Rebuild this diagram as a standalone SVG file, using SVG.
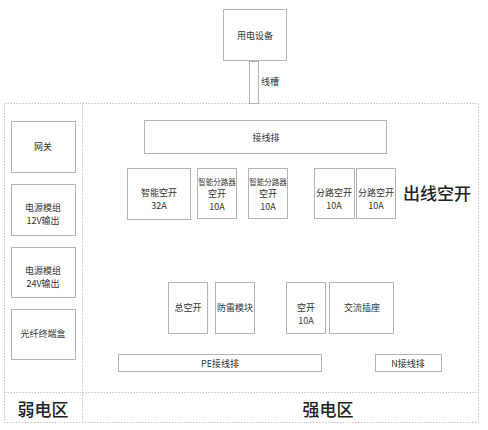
<svg xmlns="http://www.w3.org/2000/svg" width="488" height="430" viewBox="0 0 488 430">
<style>
.b{fill:#fff;stroke:#b4b4b4;stroke-width:1}
.d{fill:none;stroke:#c4c4c4;stroke-width:1;stroke-dasharray:1.5 1.5}
text{font-family:"Noto Sans CJK SC","Liberation Sans",sans-serif;font-size:9px;fill:#333;text-anchor:middle;dominant-baseline:central}
.s{font-size:7.5px}
.big{font-size:17px;fill:#222;font-weight:500}
</style>
<rect width="488" height="430" fill="#fff"/>
<g id="zones">
<rect class="d" x="4.5" y="103.5" width="474" height="319"/>
<line class="d" x1="82.5" y1="103.5" x2="82.5" y2="422.5"/>
<line class="d" x1="4.5" y1="392.5" x2="478.5" y2="392.5"/>
<text class="big" x="43" y="408">弱电区</text>
<text class="big" x="328" y="408">强电区</text>
<text class="big" x="437" y="192">出线空开</text>
</g>
<g id="connectors">
<rect class="b" x="249.5" y="61.5" width="9" height="42"/>
<text x="270" y="81">线槽</text>
</g>
<g id="device"><rect class="b" x="223.5" y="9.5" width="63" height="51"/><text x="255" y="35">用电设备</text></g>
<g id="gateway"><rect class="b" x="11.5" y="121.5" width="64" height="51"/><text x="43" y="146">网关</text></g>
<g id="psu12"><rect class="b" x="11.5" y="184.5" width="64" height="51"/><text x="43" y="207">电源模组</text><text x="43" y="220">12V输出</text></g>
<g id="psu24"><rect class="b" x="11.5" y="247.5" width="64" height="50"/><text x="43" y="270">电源模组</text><text x="43" y="283">24V输出</text></g>
<g id="fiber"><rect class="b" x="11.5" y="309.5" width="64" height="50"/><text x="43" y="333">光纤终端盒</text></g>
<g id="terminal"><rect class="b" x="144.5" y="120.5" width="242" height="33"/><text x="266" y="137">接线排</text></g>
<g id="smart32"><rect class="b" x="127.5" y="168.5" width="63" height="51"/><text x="159" y="192">智能空开</text><text x="159" y="205">32A</text></g>
<g id="smartsplit1"><rect class="b" x="197.5" y="168.5" width="39" height="50"/><text class="s" x="217" y="181">智能分路器</text><text x="217" y="193">空开</text><text x="217" y="206">10A</text></g>
<g id="smartsplit2"><rect class="b" x="248.5" y="168.5" width="39" height="50"/><text class="s" x="268" y="181">智能分路器</text><text x="268" y="193">空开</text><text x="268" y="206">10A</text></g>
<g id="split1"><rect class="b" x="314.5" y="168.5" width="40" height="50"/><text x="334" y="192">分路空开</text><text x="334" y="205">10A</text></g>
<g id="split2"><rect class="b" x="356.5" y="168.5" width="39" height="50"/><text x="376" y="192">分路空开</text><text x="376" y="205">10A</text></g>
<g id="main"><rect class="b" x="168.5" y="282.5" width="39" height="51"/><text x="188" y="307">总空开</text></g>
<g id="surge"><rect class="b" x="215.5" y="282.5" width="39" height="51"/><text x="235" y="307">防雷模块</text></g>
<g id="breaker10"><rect class="b" x="286.5" y="282.5" width="39" height="51"/><text x="306" y="307">空开</text><text x="306" y="320">10A</text></g>
<g id="socket"><rect class="b" x="329.5" y="282.5" width="64" height="51"/><text x="362" y="307">交流插座</text></g>
<g id="pe"><rect class="b" x="118.5" y="354.5" width="203" height="17"/><text x="220" y="363">PE接线排</text></g>
<g id="n"><rect class="b" x="375.5" y="354.5" width="66" height="17"/><text x="408" y="363">N接线排</text></g>
</svg>
